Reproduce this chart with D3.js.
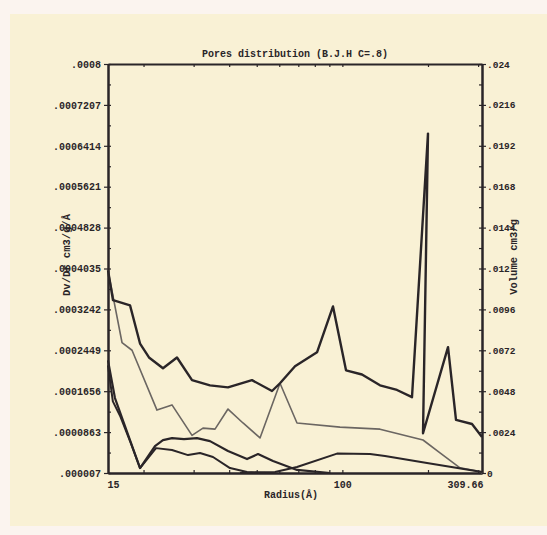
<!DOCTYPE html>
<html><head><meta charset="utf-8">
<script src="https://cdn.jsdelivr.net/npm/d3@7"></script>
<style>
html,body{margin:0;padding:0;background:#fbf4ef;}
svg{display:block;}
text{font-family:"Liberation Mono","DejaVu Sans Mono",monospace;font-weight:bold;fill:#2a2528;}
</style></head><body>
<script>
// ---- data (radius in Å) ----
const dvdrRadius = [15,15.62,17.93,19.44,20.9,23.41,26.22,29.61,34.25,39.62,48.12,56.58,60.36,68.16,81.45,92.7,103,117.2,135.6,155.6,175.7,200,192.1,235.2,250.9,285.6,309.66];
const dvdrValues = [0.000400,0.000342,0.000332,0.000258,0.000231,0.000210,0.000231,0.000187,0.000177,0.000173,0.000187,0.000166,0.000181,0.000214,0.000241,0.000330,0.000206,0.000198,0.000177,0.000168,0.000154,0.000665,0.000084,0.000251,0.000110,0.000102,0.000077];

const grayRadius = [15,16.8,18.22,22.3,25.18,29.61,32.36,35.67,39.62,44.74,51.34,60.36,69.27,98.1,135.6,192.1,220.4,259.1,304.7,309.66];
const grayValues = [0.000400,0.000260,0.000245,0.000129,0.000139,0.000080,0.000094,0.000092,0.000131,0.000104,0.000075,0.000181,0.000104,0.000096,0.000092,0.000071,0.000046,0.000017,0.000010,0.000007];

const volARadius = [15,15.87,17.0,19.44,21.94,23.41,25.18,27.75,30.83,34.25,39.62,46.22,50.52,57.04,69.27,90.48];
const volAValues = [0.00661,0.00440,0.00300,0.00029,0.00158,0.00193,0.00205,0.00199,0.00205,0.00187,0.00129,0.00082,0.00111,0.00070,0.00018,0];

const volBRadius = [15,15.6,16.6,18.0,19.44,22.12,25.18,28.67,31.59,35.09,40.27,46.22,53.46];
const volBValues = [0.00632,0.00420,0.00330,0.00180,0.00029,0.00146,0.00135,0.00105,0.00117,0.00094,0.00029,0.00006,0];

const volCRadius = [43.67,57.98,69.27,95.76,125.1,141.2,198.4,309.66];
const volCValues = [0,0.00006,0.00035,0.00114,0.00111,0.00100,0.00059,0.00006];

const leftTickValues = [0.000007,0.0000863,0.0001656,0.0002449,0.0003242,0.0004035,0.0004828,0.0005621,0.0006414,0.0007207,0.0008];
const leftTickLabels = [".000007",".0000863",".0001656",".0002449",".0003242",".0004035",".0004828",".0005621",".0006414",".0007207",".0008"];
const rightTickValues = [0,0.0024,0.0048,0.0072,0.0096,0.012,0.0144,0.0168,0.0192,0.0216,0.024];
const rightTickLabels = ["0",".0024",".0048",".0072",".0096",".012",".0144",".0168",".0192",".0216",".024"];
const xMinorTicks = [20,30,40,50,60,70,80,90,100,200,300];
const xTickValues = [15,100,309.66];
const xTickLabels = ["15","100","309.66"];

const W=547,H=535;
const m={l:108,r:482,t:64,b:473};
const svg=d3.select("body").append("svg").attr("width",W).attr("height",H);

// paper
svg.append("rect").attr("x",10).attr("y",14).attr("width",537).attr("height",512).attr("fill","#f9f1d5");

const x=d3.scaleLog().domain([15,309.66]).range([m.l,m.r]);
const yL=d3.scaleLinear().domain([0.000007,0.0008]).range([m.b,m.t]);
const yR=d3.scaleLinear().domain([0,0.024]).range([m.b,m.t]);
const ink="#2a2528";

// axes frame via d3 axes
const gL=svg.append("g").attr("transform",`translate(${m.l},0)`)
  .call(d3.axisLeft(yL).tickValues(leftTickValues).tickFormat((d,i)=>leftTickLabels[i]).tickSizeInner(4).tickSizeOuter(0).tickPadding(3));
const gLm=svg.append("g").attr("transform",`translate(${m.l},0)`)
  .call(d3.axisRight(yL).tickValues(leftTickValues.map(v=>v).concat(leftTickValues.slice(0,-1).map(v=>v+0.00003965))).tickFormat("").tickSizeInner(3).tickSizeOuter(0));
const gR=svg.append("g").attr("transform",`translate(${m.r},0)`)
  .call(d3.axisRight(yR).tickValues(rightTickValues).tickFormat((d,i)=>rightTickLabels[i]).tickSizeInner(4).tickSizeOuter(0).tickPadding(1));
const gRm=svg.append("g").attr("transform",`translate(${m.r},0)`)
  .call(d3.axisLeft(yR).tickValues(rightTickValues.concat(rightTickValues.slice(0,-1).map(v=>v+0.0012))).tickFormat("").tickSizeInner(3).tickSizeOuter(0));
const gB=svg.append("g").attr("transform",`translate(0,${m.b})`)
  .call(d3.axisBottom(x).tickValues(xTickValues).tickFormat((d,i)=>xTickLabels[i]).tickSize(0).tickPadding(8));
const gBm=svg.append("g").attr("transform",`translate(0,${m.b})`)
  .call(d3.axisTop(x).tickValues(xMinorTicks).tickFormat("").tickSizeInner(3).tickSizeOuter(0));
const gT=svg.append("g").attr("transform",`translate(0,${m.t})`)
  .call(d3.axisBottom(x).tickValues(xMinorTicks).tickFormat("").tickSizeInner(3).tickSizeOuter(0));

[gL,gLm,gR,gRm,gB,gBm,gT].forEach(g=>{
  g.selectAll("path.domain").attr("stroke",ink).attr("stroke-width",2);
  g.selectAll(".tick line").attr("stroke",ink).attr("stroke-width",1.2);
  g.selectAll("text").attr("font-size",10).attr("fill",ink).attr("font-family","Liberation Mono").attr("font-weight","bold");
});
gR.selectAll("text").attr("font-size",9.5);
gB.selectAll(".tick").each(function(d,i){
  const t=d3.select(this).select("text");
  if(i===0) t.attr("text-anchor","start").attr("dx",-1);
  if(i===2) t.attr("text-anchor","end").attr("dx",1);
});

// series
const lineL=d3.line().x(d=>x(d[0])).y(d=>yL(d[1]));
const lineR=d3.line().x(d=>x(d[0])).y(d=>yR(d[1]));
const zip=(a,b)=>a.map((v,i)=>[v,b[i]]);
const plot=svg.append("g");
plot.append("path").datum(zip(grayRadius,grayValues)).attr("d",lineL).attr("fill","none").attr("stroke","#6b6662").attr("stroke-width",1.6).attr("stroke-linejoin","round");
plot.append("path").datum(zip(volCRadius,volCValues)).attr("d",lineR).attr("fill","none").attr("stroke",ink).attr("stroke-width",2).attr("stroke-linejoin","round");
plot.append("path").datum(zip(volBRadius,volBValues)).attr("d",lineR).attr("fill","none").attr("stroke",ink).attr("stroke-width",2).attr("stroke-linejoin","round");
plot.append("path").datum(zip(volARadius,volAValues)).attr("d",lineR).attr("fill","none").attr("stroke",ink).attr("stroke-width",2.2).attr("stroke-linejoin","round");
plot.append("path").datum(zip(dvdrRadius,dvdrValues)).attr("d",lineL).attr("fill","none").attr("stroke",ink).attr("stroke-width",2.4).attr("stroke-linejoin","round");

// titles
svg.append("text").attr("x",(m.l+m.r)/2).attr("y",57).attr("text-anchor","middle").attr("font-size",10).text("Pores distribution (B.J.H C=.8)");
svg.append("text").attr("x",291).attr("y",498).attr("text-anchor","middle").attr("font-size",10).text("Radius(Å)");
svg.append("text").attr("transform","translate(70,255) rotate(-90)").attr("text-anchor","middle").attr("font-size",10.5).text("Dv/Dr cm3/g/Å");
svg.append("text").attr("transform","translate(517,257) rotate(-90)").attr("text-anchor","middle").attr("font-size",10.5).text("Volume cm3/g");
</script>
</body></html>
